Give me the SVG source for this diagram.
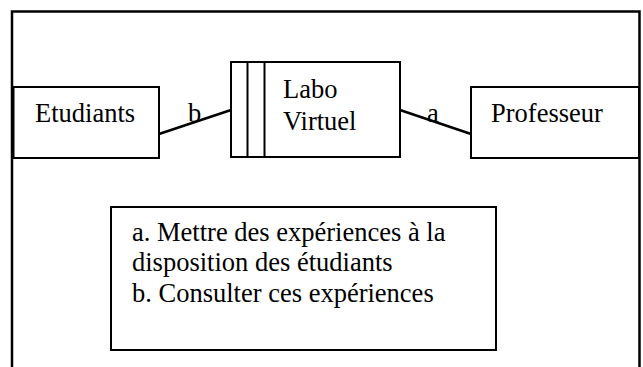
<svg xmlns="http://www.w3.org/2000/svg" width="643" height="367" viewBox="0 0 643 367">
  <style>
    .box { fill: #fff; stroke: #000; stroke-width: 2; }
    .frame { fill: none; stroke: #000; stroke-width: 2.5; }
    .edge { fill: none; stroke: #000; stroke-width: 2.5; }
    .txt { font-family: "Liberation Serif", "Times New Roman", serif; font-size: 26.5px; fill: #000; }
  </style>
  <rect width="643" height="367" fill="#fff"/>

  <!-- outer frame, open at the bottom -->
  <path class="frame" d="M12,370 V11.5 H639.5 V370"/>

  <g id="connectors">
    <line class="edge" x1="159" y1="134" x2="231" y2="110"/>
    <text class="txt" x="188" y="122">b</text>
    <line class="edge" x1="400" y1="110" x2="471" y2="134"/>
    <text class="txt" x="427" y="122">a</text>
  </g>

  <g id="etudiants">
    <rect class="box" x="13.5" y="87" width="145.5" height="71"/>
    <text class="txt" x="35" y="122">Etudiants</text>
  </g>

  <g id="labo-virtuel">
    <rect class="box" x="231" y="62" width="169" height="95"/>
    <line class="box" x1="247.5" y1="62" x2="247.5" y2="157"/>
    <line class="box" x1="264.5" y1="62" x2="264.5" y2="157"/>
    <text class="txt" x="283" y="98">Labo</text>
    <text class="txt" x="283" y="130">Virtuel</text>
  </g>

  <g id="professeur">
    <rect class="box" x="471" y="87" width="168" height="71"/>
    <text class="txt" x="491" y="122">Professeur</text>
  </g>

  <g id="legende">
    <rect class="box" x="111" y="207" width="385" height="143"/>
    <text class="txt" x="132" y="241">a. Mettre des expériences à la</text>
    <text class="txt" x="132" y="271">disposition des étudiants</text>
    <text class="txt" x="132" y="302">b. Consulter ces expériences</text>
  </g>
</svg>
